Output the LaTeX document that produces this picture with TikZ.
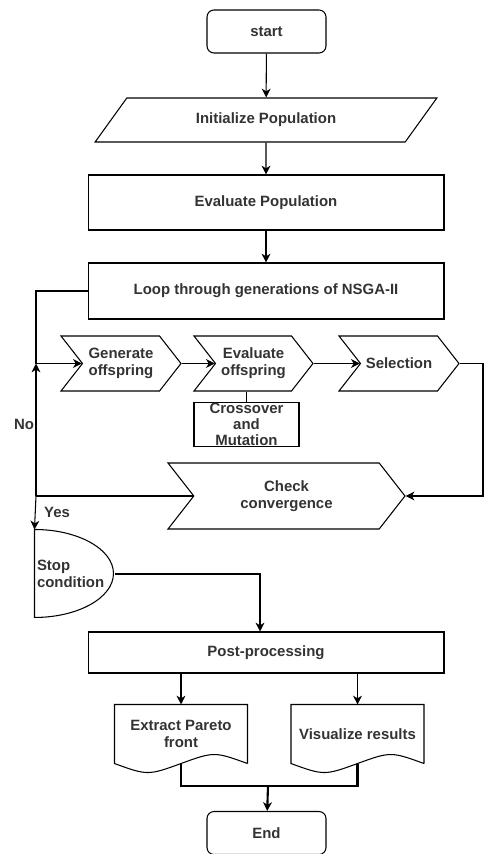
\documentclass[tikz,border=0pt]{standalone}
\usepackage{fontspec}
\setmainfont{Liberation Sans}
\usetikzlibrary{shapes.geometric,shapes.symbols,arrows.meta}
\begin{document}
\begin{tikzpicture}[x=0.02cm,y=-0.02cm,font=\fontsize{8.5}{9.5}\selectfont\bfseries,
    line width=0.6pt,>={Stealth[length=5pt,width=5pt,inset=1.5pt]},every node/.style={text=black!80},
    box/.style={draw,minimum width=7.12cm,inner sep=1pt,align=center},
    term/.style={draw,rounded corners=4pt,minimum width=2.38cm,minimum height=0.86cm},
    chev/.style={draw,signal,signal from=west,signal to=east,signal pointer angle=104,
      minimum height=1.1cm,inner sep=1pt,align=center},
    doc/.style={minimum width=2.64cm,minimum height=1.16cm,inner sep=1pt,align=center},
    bus/.style={line width=1.2pt}]
    \useasboundingbox (0,0) rectangle (485,854);
    \node[term] (start) at (266.5,31.5) {start};
    \node[draw,trapezium,trapezium left angle=56,trapezium right angle=124,trapezium stretches=true,
      minimum width=6.84cm,minimum height=0.88cm] (init) at (266,120) {Initialize Population};
    \node[box,minimum height=1.1cm] (evalpop) at (266,202.5) {Evaluate Population};
    \node[box,minimum height=1.12cm] (loop) at (266,291) {Loop through generations of NSGA-II};
    \node[chev,minimum width=2.4cm] (gen) at (121,363.5) {Generate\\offspring};
    \node[chev,minimum width=2.38cm] (evaloff) at (253.5,363.5) {Evaluate\\offspring};
    \node[chev,minimum width=2.4cm] (sel) at (399,363.5) {Selection};
    \node[draw,minimum width=2.1cm,minimum height=0.88cm,inner ysep=0pt,align=center,
      font=\fontsize{8.5}{9}\selectfont\bfseries] (cross) at (246.5,424.5) {Crossover\\and\\Mutation};
    \node[chev,minimum width=4.74cm,minimum height=1.32cm] (check) at (286.5,496) {Check\\convergence};
    \node[minimum width=1.58cm,minimum height=1.76cm,text width=1.5cm,inner xsep=0.04cm,align=left]
      (stop) at (74.5,574) {Stop\\condition};
    \draw (stop.north west) arc[start angle=90,end angle=-90,x radius=1.58cm,y radius=0.88cm] -- cycle;
    \node[box,minimum height=0.82cm] (post) at (266,652.5) {Post-processing};
    \node[doc] (extract) at (181,734) {Extract Pareto\\front};
    \node[doc] (vis) at (357.5,734) {Visualize results};
    \foreach \d in {extract,vis}
      \draw (\d.south east) -- (\d.north east) -- (\d.north west) -- (\d.south west)
        .. controls +(0.66cm,-0.24cm) and +(-0.66cm,-0.24cm) .. (\d.south)
        .. controls +(0.66cm,0.24cm) and +(-0.66cm,0.24cm) .. (\d.south east);
    \node[term] (endn) at (266.5,833) {End};
    \node (no) at (24,424) {No};
    \node (yes) at (57,512) {Yes};
    % connectors
    \coordinate (lp) at (36,363.5);
    \coordinate (lb) at (36,496);
    \coordinate (rt) at (483,363.5);
    \coordinate (jn) at (268,786);
    \draw[->] (start) -- (init);
    \draw[->] (init) -- (evalpop);
    \draw[->] (evalpop) -- (loop);
    \draw[->] (loop.west) -| (lp) -- (gen.west);
    \draw[->] (gen.east) -- (evaloff.west);
    \draw[->] (evaloff.east) -- (sel.west);
    \draw (cross.north) -- (cross.north |- evaloff.south);
    \draw[->] (sel.east) -- (rt) |- (check.east);
    \draw (check.west) -- (lb);
    \draw[->] (lb) -- (lp);
    \draw[->] (lb) -- (stop.north west);
    \draw[->] (stop.east) -| ([xshift=-0.12cm]post.north);
    \draw[->] (post.south -| extract.north) -- (extract.north);
    \draw[->] (post.south -| vis.north) -- (vis.north);
    \draw[bus] (extract.south) |- (jn) -| (vis.south);
    \draw[bus,->] (jn) -- (endn);
\end{tikzpicture}
\end{document}
